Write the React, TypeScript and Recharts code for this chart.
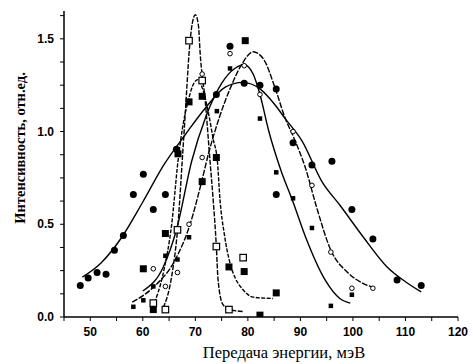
import React from 'react';
import { ComposedChart, Line, Scatter, XAxis, YAxis } from 'recharts';

type Pt = [number, number];

// measured points (энергия, мэВ ; интенсивность)
const filledCircles: Pt[] = [
  [48.1, 0.17], [49.6, 0.21], [51.3, 0.24], [53.0, 0.23], [54.6, 0.36], [56.3, 0.44],
  [58.2, 0.66], [60.1, 0.77], [62.0, 0.58], [64.3, 0.66], [66.4, 0.905], [74.0, 1.2],
  [76.6, 1.46], [79.3, 1.26], [82.3, 1.25], [85.4, 1.23], [85.4, 0.66], [88.6, 0.94],
  [92.2, 0.82], [96.0, 0.84], [99.8, 0.58], [103.8, 0.42], [108.4, 0.2], [113.0, 0.17],
];
const openCircles: Pt[] = [
  [62.0, 0.26], [64.3, 0.165], [66.6, 0.24], [68.8, 0.5], [71.3, 0.86], [71.3, 1.31],
  [76.6, 1.42], [79.3, 1.355], [82.3, 1.2], [88.6, 1.0], [92.2, 0.71], [95.8, 0.35],
  [99.8, 0.155], [103.8, 0.155],
];
const smallSquares: Pt[] = [
  [58.2, 0.055], [60.1, 0.09], [62.0, 0.165], [64.3, 0.33], [66.6, 0.31], [68.8, 0.43],
  [74.1, 1.11], [76.6, 1.34], [82.3, 1.07], [85.4, 0.78], [88.6, 0.64], [92.2, 0.48],
  [95.8, 0.06], [99.8, 0.12],
];
const bigSquares: Pt[] = [
  [60.1, 0.26], [62.0, 0.04], [64.3, 0.45], [66.7, 0.88], [68.8, 1.16], [71.3, 1.19],
  [71.3, 0.73], [74.0, 0.86], [76.4, 0.27], [79.3, 0.245], [79.5, 1.49], [82.3, 0.01],
  [85.4, 0.13],
];
const openSquares: Pt[] = [
  [62.0, 0.075], [64.3, 0.04], [66.6, 0.47], [68.8, 1.49], [71.3, 1.275], [74.0, 0.38],
  [76.4, 0.04], [79.1, 0.32],
];

// fitted curves
const curveWide: Pt[] = [
  [48.5, 0.215], [52, 0.29], [56, 0.43], [60, 0.62], [64, 0.82], [68, 0.98], [72, 1.13],
  [75.7, 1.24], [79, 1.265], [82.3, 1.23], [85, 1.15], [87.1, 1.07], [90.3, 0.95],
  [94.1, 0.73], [97.6, 0.6], [102, 0.43], [106.5, 0.27], [110, 0.19], [113, 0.135],
];
const curveHigh: Pt[] = [
  [58, 0.08], [62, 0.16], [66.2, 0.31], [69, 0.5], [71.2, 0.73], [72.5, 0.88], [74.5, 1.07],
  [76.6, 1.23], [79, 1.37], [81, 1.43], [83, 1.39], [85, 1.25], [87, 1.08], [89, 0.95],
  [91, 0.8], [93, 0.6], [95.8, 0.36], [99, 0.24], [102, 0.18], [103.8, 0.16],
];
const curveMid: Pt[] = [
  [60, 0.14], [63.9, 0.27], [66.5, 0.48], [69.3, 0.84], [72, 1.08], [75, 1.26], [77.5, 1.34],
  [79.3, 1.36], [81, 1.31], [82.3, 1.2], [84, 1.0], [86.3, 0.79], [88.6, 0.62], [91, 0.43],
  [94.7, 0.2], [97.5, 0.1], [99.5, 0.075],
];
const curveNarrow: Pt[] = [
  [63.9, 0.05], [65.5, 0.22], [66.7, 0.5], [67.5, 0.84], [68.2, 1.15], [68.8, 1.42],
  [69.4, 1.58], [70, 1.63], [70.6, 1.57], [70.9, 1.43], [71.9, 1.16], [72.8, 0.84],
  [73.4, 0.63], [74.0, 0.38], [74.3, 0.21], [75.2, 0.07], [76.6, 0.04], [79, 0.03],
];
const curveSharp: Pt[] = [
  [61.8, 0.05], [64, 0.25], [65.5, 0.5], [66.7, 0.84], [67.8, 1.06], [68.6, 1.16],
  [69.4, 1.24], [70.5, 1.28], [71.5, 1.22], [72.5, 1.1], [73.4, 0.96], [74.2, 0.84],
  [74.7, 0.63], [75.5, 0.45], [76.6, 0.29], [77.6, 0.21], [79, 0.15], [81, 0.107],
  [84.8, 0.1],
];

const xTicks = [45, 50, 55, 60, 65, 70, 75, 80, 85, 90, 95, 100, 105, 110, 115, 120];
const yTicks = [0, 0.125, 0.25, 0.375, 0.5, 0.625, 0.75, 0.875, 1, 1.125, 1.25, 1.375, 1.5, 1.625];

const rows = (pts: Pt[]) => pts.map(([x, y]) => ({ x, y }));

const tickFont = { fontFamily: 'Liberation Sans, Arial, sans-serif', fontSize: 12, fontWeight: 700 };

const XTick = (props: any) => {
  const { x, y, payload } = props;
  if (payload.value % 10 !== 0) return <g />;
  return (
    <text x={x} y={y} dy={9} textAnchor="middle" fill="#000" style={tickFont}>
      {payload.value}
    </text>
  );
};

const YTick = (props: any) => {
  const { x, y, payload } = props;
  if (Math.abs(payload.value * 2 - Math.round(payload.value * 2)) > 1e-6) return <g />;
  return (
    <text x={x} y={y} dy={4} textAnchor="end" fill="#000" style={tickFont}>
      {payload.value.toFixed(1)}
    </text>
  );
};

const dot = (r: number) => (p: any) => <circle cx={p.cx} cy={p.cy} r={r} fill="#000" />;
const ring = (r: number) => (p: any) => (
  <circle cx={p.cx} cy={p.cy} r={r} fill="#fff" stroke="#000" strokeWidth={1} />
);
const square = (s: number) => (p: any) => (
  <rect x={p.cx - s / 2} y={p.cy - s / 2} width={s} height={s} fill="#000" />
);
const box = (s: number) => (p: any) => (
  <rect x={p.cx - s / 2} y={p.cy - s / 2} width={s} height={s} fill="#fff" stroke="#000" strokeWidth={1.2} />
);

const XTitle = () => (
  <text x={276} y={350} textAnchor="middle" fill="#000"
    style={{ fontFamily: 'Liberation Serif, serif', fontSize: 16.5 }}>
    Передача энергии, мэВ
  </text>
);
const YTitle = () => (
  <text x={17} y={140} textAnchor="middle" fill="#000" transform="rotate(-90 17 140)"
    style={{ fontFamily: 'Liberation Serif, serif', fontSize: 14.5, fontWeight: 700 }}>
    Интенсивность, отн.ед.
  </text>
);

const curveProps = { type: 'monotone' as const, dataKey: 'y', stroke: '#000', strokeWidth: 1.4, dot: false, activeDot: false, isAnimationActive: false };

export default function App() {
  return (
    <div style={{ width: 465, height: 356, padding: '8px 0 0 8px' }}>
      <style>{'body { margin: 0; }'}</style>
      <ComposedChart width={465} height={356} margin={{ top: 3, right: 15, bottom: 17, left: 16 }}>
        <XAxis
          type="number" dataKey="x" domain={[45, 120]} ticks={xTicks} interval={0} allowDataOverflow
          height={30} tickSize={4} tickMargin={6} tick={<XTick />}
          axisLine={{ stroke: '#000', strokeWidth: 1.5 }} tickLine={{ stroke: '#000' }}
          label={<XTitle />}
        />
        <YAxis
          type="number" dataKey="y" domain={[0, 1.65]} ticks={yTicks} interval={0} allowDataOverflow
          width={40} tickSize={4} tickMargin={6} tick={<YTick />}
          axisLine={{ stroke: '#000', strokeWidth: 1.5 }} tickLine={{ stroke: '#000' }}
          label={<YTitle />}
        />
        <Line {...curveProps} data={rows(curveWide)} />
        <Line {...curveProps} data={rows(curveHigh)} strokeDasharray="6 1.5" />
        <Line {...curveProps} data={rows(curveMid)} />
        <Line {...curveProps} data={rows(curveNarrow)} strokeDasharray="5 1.5" />
        <Line {...curveProps} data={rows(curveSharp)} strokeDasharray="4 1.5" />
        <Scatter data={rows(filledCircles)} shape={dot(3.5)} isAnimationActive={false} />
        <Scatter data={rows(openCircles)} shape={ring(2.3)} isAnimationActive={false} />
        <Scatter data={rows(smallSquares)} shape={square(4.5)} isAnimationActive={false} />
        <Scatter data={rows(bigSquares)} shape={square(7)} isAnimationActive={false} />
        <Scatter data={rows(openSquares)} shape={box(6.5)} isAnimationActive={false} />
      </ComposedChart>
    </div>
  );
}
